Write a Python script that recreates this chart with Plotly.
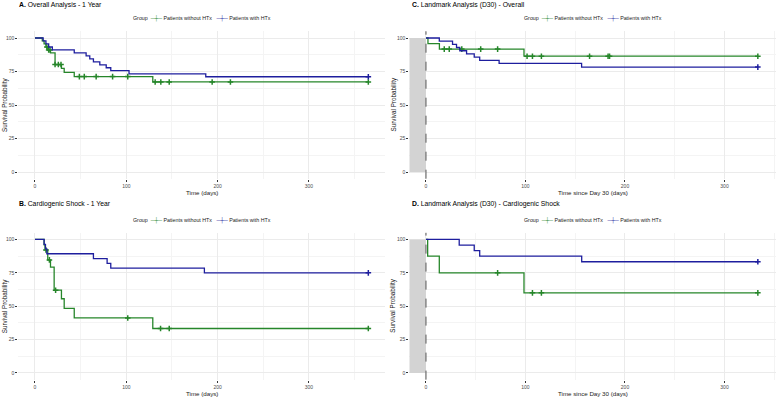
import plotly.graph_objects as go

W, H = 776, 397
GREEN = "#26862A"
BLUE = "#1E1E9E"
FONT = "Liberation Sans, Arial, sans-serif"

# ---------------- data ----------------
# Panel A: Overall Analysis - 1 Year
a_wo_t = [0, 8, 10, 12, 14, 17, 22, 29, 32, 43, 129, 365]
a_wo_s = [100, 97.8, 95.6, 93.3, 91.1, 88.9, 80.2, 77.3, 74.4, 71.2, 67.2, 67.2]
a_wo_c = [13, 15, 16.5, 22, 25.6, 28.5, 48.6, 54, 67, 85, 101.6, 131.6, 137.8, 147, 194, 214, 365]
a_w_t = [0, 9, 12, 15, 19, 43, 56, 60, 64, 71, 78, 83, 103, 187, 365]
a_w_s = [100, 97.8, 95.6, 93.3, 91.1, 88.9, 86.7, 84.4, 82.2, 80.0, 77.8, 75.6, 73.3, 71.1, 71.1]
a_w_c = [365]

# Panel B: Cardiogenic Shock - 1 Year
b_wo_t = [0, 10, 11, 14, 17, 21, 29, 32, 43, 129, 365]
b_wo_s = [100, 96.0, 92.1, 84.7, 79.3, 62.0, 55.6, 48.4, 41.2, 33.3, 33.3]
b_wo_c = [12, 15.8, 22.6, 101.6, 137.5, 147, 365]
b_w_t = [0, 10, 11.5, 13, 64, 79, 83, 185.5, 365]
b_w_s = [100, 96.4, 92.9, 89.3, 85.7, 82.1, 78.6, 75.0, 75.0]
b_w_c = [365]

# Panel C: Landmark Analysis (D30) - Overall
c_wo_t = [0, 2, 13.5, 98.5, 333.5]
c_wo_s = [100, 95.8, 91.7, 86.4, 86.4]
c_wo_c = [18.4, 23.4, 36, 55, 72, 101.6, 107, 116, 164.4, 183, 184.5, 333.5]
c_w_t = [0, 13.4, 26.7, 30.7, 34, 40.8, 48.5, 54, 73.5, 156.4, 333.5]
c_w_s = [100, 97.6, 95.2, 92.9, 90.5, 88.1, 85.7, 83.3, 81.0, 78.3, 78.3]
c_w_c = [333.5]

# Panel D: Landmark Analysis (D30) - Cardiogenic Shock
d_wo_t = [0, 1.7, 13.4, 98.5, 333.5]
d_wo_s = [100, 87.5, 75.0, 60.0, 60.0]
d_wo_c = [72, 107, 116, 333.5]
d_w_t = [0, 33.4, 48.5, 54, 156.5, 333.5]
d_w_s = [100, 95.8, 91.7, 87.5, 83.3, 83.3]
d_w_c = [333.5]

titles = ["A. Overall Analysis - 1 Year", "B. Cardiogenic Shock - 1 Year",
          "C. Landmark Analysis (D30) - Overall", "D. Landmark Analysis (D30) - Cardiogenic Shock"]
group_names = ["Patients without HTx", "Patients with HTx"]
x_titles = ["Time (days)", "Time (days)", "Time since Day 30 (days)", "Time since Day 30 (days)"]
y_title = "Survival Probability"
x_ticks = [0, 100, 200, 300]
y_ticks = [0, 25, 50, 75, 100]

panels = [
    (a_wo_t, a_wo_s, a_wo_c, a_w_t, a_w_s, a_w_c),
    (b_wo_t, b_wo_s, b_wo_c, b_w_t, b_w_s, b_w_c),
    (c_wo_t, c_wo_s, c_wo_c, c_w_t, c_w_s, c_w_c),
    (d_wo_t, d_wo_s, d_wo_c, d_w_t, d_w_s, d_w_c),
]


def surv_at(ts, ss, t):
    v = ss[0]
    for ti, si in zip(ts, ss):
        if ti <= t:
            v = si
    return v


# ---------------- layout geometry (pixels) ----------------
def px_x(p):
    return p / W


def px_y(p):
    return 1 - p / H


xdom_px = [(18.3, 385), (18.3, 385), (409.3, 776), (409.3, 776)]
ydom_px = [(31.3, 178.7), (232.8, 379.6), (31.3, 178.7), (232.8, 379.6)]
xranges = [[-18.25, 383.25], [-18.25, 383.25], [-16.75, 351.75], [-16.75, 351.75]]
xtitle_y = [192, 393.8, 192, 393.8]
ytitle_x = [5, 5, 393.5, 393.5]
title_pos = [(17, 5), (17, 204), (410, 5), (410, 204)]
legend_pos = [(202, 18.7), (202, 220), (593, 18.7), (593, 220)]

fig = go.Figure()

for i, (wo_t, wo_s, wo_c, w_t, w_s, w_c) in enumerate(panels):
    n = "" if i == 0 else str(i + 1)
    xa, ya = "x" + n, "y" + n
    for ts, ss, cs, col, name in [(wo_t, wo_s, wo_c, GREEN, group_names[0]),
                                  (w_t, w_s, w_c, BLUE, group_names[1])]:
        fig.add_trace(go.Scatter(x=ts, y=ss, mode="lines", line=dict(color=col, width=1.3, shape="hv"),
                                 xaxis=xa, yaxis=ya, showlegend=False, name=name))
        fig.add_trace(go.Scatter(x=cs, y=[surv_at(ts, ss, c) for c in cs], mode="markers",
                                 marker=dict(symbol="cross-thin", size=4, line=dict(color=col, width=1.5)),
                                 xaxis=xa, yaxis=ya, showlegend=False, name=name + " (censored)"))

    x0p, x1p = xdom_px[i]
    y0p, y1p = ydom_px[i]
    axis_common = dict(showline=False, zeroline=False, ticks="outside", ticklen=2, tickcolor="#333333",
                       tickwidth=0.6, showgrid=True, gridcolor="#EBEBEB", gridwidth=0.8, automargin=False,
                       tickfont=dict(size=5, color="#4D4D4D", family=FONT))
    fig.update_layout(**{
        "xaxis" + n: dict(axis_common, domain=[px_x(x0p), px_x(x1p)], range=xranges[i], tickvals=x_ticks,
                          anchor=ya,
                          minor=dict(dtick=50, tick0=0, showgrid=True, gridcolor="#F4F4F4", gridwidth=0.5, ticks="")),
        "yaxis" + n: dict(axis_common, domain=[px_y(y1p), px_y(y0p)], range=[-5, 105], tickvals=y_ticks,
                          anchor=xa,
                          minor=dict(dtick=12.5, tick0=0, showgrid=True, gridcolor="#F4F4F4", gridwidth=0.5, ticks="")),
    })

    # axis titles
    fig.add_annotation(text=x_titles[i], xref="paper", yref="paper",
                       x=px_x((x0p + x1p) / 2), y=px_y(xtitle_y[i]), xanchor="center", yanchor="middle",
                       showarrow=False, borderpad=0, font=dict(size=6.2, color="#1A1A1A", family=FONT))
    fig.add_annotation(text=y_title, xref="paper", yref="paper", textangle=-90,
                       x=px_x(ytitle_x[i]), y=px_y((y0p + y1p) / 2), xanchor="center", yanchor="middle",
                       showarrow=False, borderpad=0, font=dict(size=6.3, color="#1A1A1A", family=FONT))

    tx, ty = title_pos[i]
    parts = titles[i].split(" ", 1)
    fig.add_annotation(text="<b>" + parts[0] + "</b> " + parts[1], xref="paper", yref="paper",
                       x=px_x(tx), y=px_y(ty), xanchor="left", yanchor="middle", showarrow=False,
                       font=dict(size=6.8, color="#000000", family=FONT))
    lx, ly = legend_pos[i]
    leg = ("Group  <span style='color:%s'>─┼─</span> %s   <span style='color:%s'>─┼─</span> %s"
           % (GREEN, group_names[0], BLUE, group_names[1]))
    fig.add_annotation(text=leg, xref="paper", yref="paper", x=px_x(lx), y=px_y(ly),
                       xanchor="center", yanchor="middle", showarrow=False,
                       font=dict(size=5.3, color="#1A1A1A", family=FONT))

    if i >= 2:
        fig.add_shape(type="rect", xref=xa, yref=ya, x0=xranges[i][0], x1=0, y0=0, y1=100,
                      fillcolor="#D3D3D3", line=dict(width=0), layer="between")
        fig.add_shape(type="line", xref=xa, yref=ya + " domain", x0=0, x1=0, y0=0, y1=1,
                      line=dict(color="#555555", width=1, dash="dash"), layer="above")

fig.update_layout(width=W, height=H, margin=dict(l=0, r=0, t=0, b=0),
                  paper_bgcolor="white", plot_bgcolor="white", showlegend=False,
                  font=dict(family=FONT))

fig.write_html("out.html")
